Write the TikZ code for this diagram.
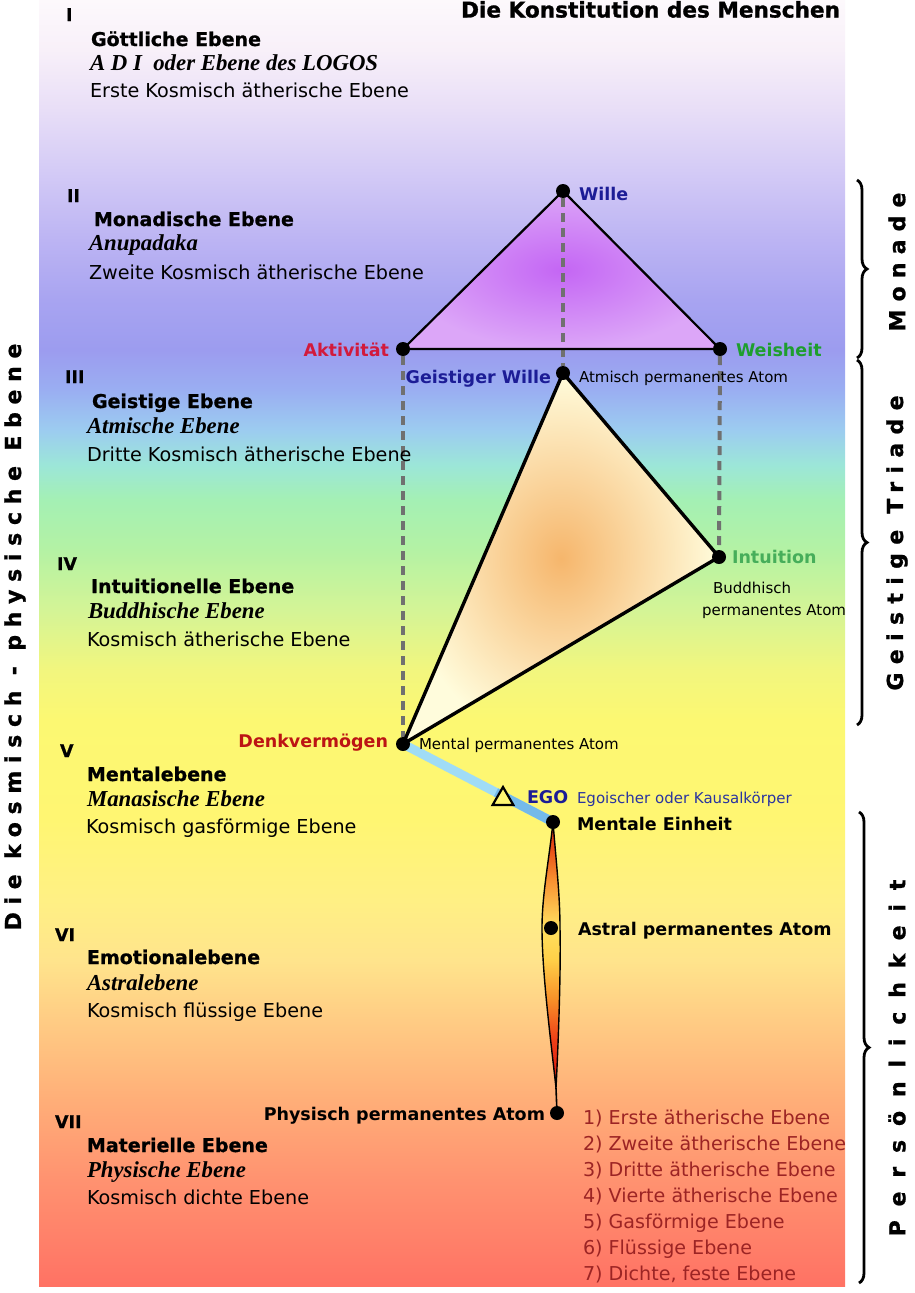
\documentclass[tikz,border=0pt]{standalone}
\usepackage{fontspec}
\setmainfont{DejaVu Sans}
\newfontfamily\serifbi{Liberation Serif}
\usetikzlibrary{decorations.pathreplacing,shapes.geometric,calc}

\definecolor{bgA}{HTML}{FDF9FC}
\definecolor{bgB}{HTML}{F8F0F9}
\definecolor{bgC}{HTML}{E8DEF7}
\definecolor{bgD}{HTML}{D4CBF6}
\definecolor{bgE}{HTML}{BCB4F3}
\definecolor{bgF}{HTML}{A8A4F1}
\definecolor{bgG}{HTML}{9C9CEF}
\definecolor{bgH}{HTML}{9AAEF2}
\definecolor{bgI}{HTML}{9CCCF0}
\definecolor{bgJ}{HTML}{9CE6D8}
\definecolor{bgK}{HTML}{A4F0B4}
\definecolor{bgL}{HTML}{B4F2A4}
\definecolor{bgM}{HTML}{D4F496}
\definecolor{bgN}{HTML}{F2F67E}
\definecolor{bgO}{HTML}{FCF872}
\definecolor{bgP}{HTML}{FFF672}
\definecolor{bgQ}{HTML}{FFF084}
\definecolor{bgR}{HTML}{FFE48C}
\definecolor{bgS}{HTML}{FFCC84}
\definecolor{bgT}{HTML}{FFAE78}
\definecolor{bgU}{HTML}{FF9270}
\definecolor{bgV}{HTML}{FF7264}

\definecolor{spA}{HTML}{D83010}
\definecolor{spB}{HTML}{E85018}
\definecolor{spC}{HTML}{F89030}
\definecolor{spD}{HTML}{FFE060}
\definecolor{spE}{HTML}{FFD048}
\definecolor{spF}{HTML}{F89028}
\definecolor{spG}{HTML}{EE4018}
\definecolor{spH}{HTML}{E02010}
\definecolor{spI}{HTML}{801010}

\definecolor{purpleIn}{HTML}{C466F4}
\definecolor{purpleOut}{HTML}{DCA6F8}
\definecolor{orIn}{HTML}{F6B66C}
\definecolor{orOut}{HTML}{FFFCDC}
\definecolor{willeblue}{HTML}{1C1C96}
\definecolor{aktred}{HTML}{D21A3C}
\definecolor{weisgreen}{HTML}{1E9E2E}
\definecolor{intgreen}{HTML}{46AE5A}
\definecolor{denkred}{HTML}{BC1414}
\definecolor{egotxt}{HTML}{2A34A0}
\definecolor{listred}{HTML}{9C2424}
\definecolor{dashgray}{HTML}{707070}
\definecolor{egoA}{HTML}{A0DCF6}
\definecolor{egoB}{HTML}{74BAEA}

\pgfdeclareverticalshading{bgshade}{100bp}{color(0bp)=(bgV); color(25bp)=(bgV); color(29.12bp)=(bgU); color(32.23bp)=(bgT); color(35.34bp)=(bgS); color(37.68bp)=(bgR); color(40.01bp)=(bgQ); color(43.12bp)=(bgP); color(47.01bp)=(bgO); color(48.95bp)=(bgN); color(51.28bp)=(bgM); color(53.62bp)=(bgL); color(55.56bp)=(bgK); color(56.92bp)=(bgJ); color(58.28bp)=(bgI); color(59.84bp)=(bgH); color(61.39bp)=(bgG); color(63.34bp)=(bgF); color(65.67bp)=(bgE); color(68.39bp)=(bgD); color(70.72bp)=(bgC); color(73.06bp)=(bgB); color(75bp)=(bgA); color(100bp)=(bgA)}

\pgfdeclareverticalshading{spshade}{100bp}{color(0bp)=(spI); color(25bp)=(spI); color(28.4bp)=(spH); color(34.1bp)=(spG); color(41.6bp)=(spF); color(49.2bp)=(spE); color(55.2bp)=(spD); color(64.2bp)=(spC); color(69.9bp)=(spB); color(75bp)=(spA); color(100bp)=(spA)}

\pgfdeclarelayer{bgl}
\pgfdeclarelayer{midl}
\pgfsetlayers{bgl,midl,main}

\begin{document}
\begin{tikzpicture}[x=1pt,y=-1pt,
  every node/.style={inner sep=0pt, outer sep=0pt},
  num/.style={anchor=base west, font=\bfseries\fontsize{17.5}{20}\selectfont\addfontfeatures{FakeBold=0.8}},
  head/.style={anchor=base west, font=\bfseries\fontsize{19}{22}\selectfont\addfontfeatures{FakeBold=0.8}},
  ital/.style={anchor=base west, font=\serifbi\bfseries\itshape\fontsize{22.8}{26}\selectfont},
  body/.style={anchor=base west, font=\fontsize{19.2}{23}\selectfont},
  lbl/.style={font=\bfseries\fontsize{17.5}{20}\selectfont},
  small/.style={font=\fontsize{15}{18}\selectfont},
  listitem/.style={anchor=base west, text=listred, font=\fontsize{19.1}{22}\selectfont},
  dot/.style={circle, fill=black, minimum size=14pt},
  edgeline/.style={draw=black, line width=2.4pt, line join=round},
  dashline/.style={draw=dashgray, line width=4pt, dash pattern=on 9pt off 6pt},
  bracestyle/.style={decorate, decoration={brace, amplitude=10pt}, line width=2.8pt},
  vlabel/.style={rotate=90}
]
\useasboundingbox (0,0) rectangle (914,1293);

\begin{pgfonlayer}{bgl}
\fill[white] (0,0) rectangle (914,1293);
\shade[shading=bgshade] (39,0) rectangle (845,1286);
\end{pgfonlayer}

% ---------- points ----------
\node[dot] (wille) at (563,191) {};
\node[dot] (akt) at (403,349) {};
\node[dot] (weis) at (720,349) {};
\node[dot] (gw) at (563,373) {};
\node[dot] (intu) at (719,557) {};
\node[dot] (denk) at (403,744) {};
\node[dot] (me) at (553,822) {};
\node[dot] (ast) at (551,928) {};
\node[dot] (phys) at (557,1113) {};
\coordinate (astL) at (542,928);
\coordinate (astR) at (560,928);
\coordinate (spb) at (556,1088);

\begin{pgfonlayer}{midl}
% purple triangle (Monade)
\shade[inner color=purpleIn, outer color=purpleOut] (wille.center) -- (akt.center) -- (weis.center) -- cycle;
% yellow triangle (Geistige Triade)
\shade[inner color=orIn, outer color=orOut] (gw.center) -- (intu.center) -- (denk.center) -- cycle;
% dashed verticals
\draw[dashline] (wille) -- (gw);
\draw[dashline] (akt) -- (denk);
\draw[dashline] (weis) -- (intu);
% edges
\draw[edgeline, line width=2.2pt] (wille.center) -- (akt.center) -- (weis.center) -- cycle;
\draw[edgeline, line width=3.4pt] (gw.center) -- (intu.center) -- (denk.center) -- cycle;
% ego line
\draw[line width=9pt, draw=egoA] (denk.center) -- (me.center);
\draw[line width=9pt, draw=egoB] ($(denk.center)!0.62!(me.center)$) -- (me.center);
% spindle
\shade[shading=spshade] (me.center) .. controls (549,860) and (542,895) .. (astL) .. controls (542,975) and (552,1050) .. (spb) .. controls (558,1050) and (561,975) .. (astR) .. controls (560,895) and (556,860) .. (me.center) -- cycle;
\draw[line width=1.4pt] (me.center) .. controls (549,860) and (542,895) .. (astL) .. controls (542,975) and (552,1050) .. (spb) .. controls (558,1050) and (561,975) .. (astR) .. controls (560,895) and (556,860) .. (me.center) -- cycle;
\draw[line width=1.6pt] (spb) -- (phys);
\end{pgfonlayer}

\node[regular polygon, regular polygon sides=3, draw=black, line width=2.2pt, fill=bgP, minimum size=24pt] (ego) at (503,799) {};

% ---------- title ----------
\node[anchor=base east, font=\bfseries\fontsize{21.6}{24}\selectfont\addfontfeatures{FakeBold=1.2}] (title) at (840,17.5) {Die Konstitution des Menschen};

% ---------- left column ----------
\node[num] (nI) at (66,21) {I};
\node[head] (hI) at (91,46) {Göttliche Ebene};
\node[ital] (iI) at (90,70) {A D I\ \ oder Ebene des LOGOS};
\node[body] (bI) at (90,97) {Erste Kosmisch ätherische Ebene};

\node[num] (nII) at (67,202) {II};
\node[head] (hII) at (94,226) {Monadische Ebene};
\node[ital] (iII) at (89,250) {Anupadaka};
\node[body] (bII) at (89,279) {Zweite Kosmisch ätherische Ebene};

\node[num] (nIII) at (65,383) {III};
\node[head] (hIII) at (92,408) {Geistige Ebene};
\node[ital] (iIII) at (87,433) {Atmische Ebene};
\node[body] (bIII) at (87,461) {Dritte Kosmisch ätherische Ebene};

\node[num] (nIV) at (57,570) {IV};
\node[head] (hIV) at (91,593) {Intuitionelle Ebene};
\node[ital] (iIV) at (88,618) {Buddhische Ebene};
\node[body] (bIV) at (87,646) {Kosmisch ätherische Ebene};

\node[num] (nV) at (60,757) {V};
\node[head] (hV) at (87,781) {Mentalebene};
\node[ital] (iV) at (87,806) {Manasische Ebene};
\node[body] (bV) at (86,833) {Kosmisch gasförmige Ebene};

\node[num] (nVI) at (55,941) {VI};
\node[head] (hVI) at (87,964) {Emotionalebene};
\node[ital] (iVI) at (87,990) {Astralebene};
\node[body] (bVI) at (87,1017) {Kosmisch flüssige Ebene};

\node[num] (nVII) at (55,1128) {VII};
\node[head] (hVII) at (87,1152) {Materielle Ebene};
\node[ital] (iVII) at (87,1177) {Physische Ebene};
\node[body] (bVII) at (87,1204) {Kosmisch dichte Ebene};

% ---------- point labels ----------
\node[lbl, anchor=base west, text=willeblue] (lwille) at (579,200) {Wille};
\node[lbl, anchor=base east, text=aktred] (lakt) at (389,356) {Aktivität};
\node[lbl, anchor=base west, text=weisgreen] (lweis) at (736,356) {Weisheit};
\node[lbl, anchor=base east, text=willeblue] (lgw) at (551,383) {Geistiger Wille};
\node[small, anchor=base west] (latm) at (579,382) {Atmisch permanentes Atom};
\node[lbl, anchor=base west, text=intgreen] (lint) at (732,563) {Intuition};
\node[small, anchor=base west] (lbud1) at (713,593) {Buddhisch};
\node[small, anchor=base west] (lbud2) at (702,615) {permanentes Atom};
\node[lbl, anchor=base east, text=denkred] (ldenk) at (388,747) {Denkvermögen};
\node[small, anchor=base west] (lment) at (419,749) {Mental permanentes Atom};
\node[lbl, anchor=base west, text=willeblue] (lego) at (527,803) {EGO};
\node[small, anchor=base west, text=egotxt] (lkaus) at (577,803) {Egoischer oder Kausalkörper};
\node[lbl, anchor=base west] (lme) at (577,830) {Mentale Einheit};
\node[lbl, anchor=base west] (last) at (578,935) {Astral permanentes Atom};
\node[lbl, anchor=base east] (lphys) at (545,1120) {Physisch permanentes Atom};

\node[listitem] (li1) at (583,1124) {1) Erste ätherische Ebene};
\node[listitem] (li2) at (583,1150) {2) Zweite ätherische Ebene};
\node[listitem] (li3) at (583,1176) {3) Dritte ätherische Ebene};
\node[listitem] (li4) at (583,1202) {4) Vierte ätherische Ebene};
\node[listitem] (li5) at (583,1228) {5) Gasförmige Ebene};
\node[listitem] (li6) at (583,1254) {6) Flüssige Ebene};
\node[listitem] (li7) at (583,1280) {7) Dichte, feste Ebene};

% ---------- braces ----------
\coordinate (bmT) at (857,180);
\coordinate (bmB) at (857,358);
\coordinate (btT) at (857,360);
\coordinate (btB) at (857,725);
\coordinate (bpT) at (859,812);
\coordinate (bpB) at (859,1283);
\draw[bracestyle] (bmT) -- (bmB);
\draw[bracestyle] (btT) -- (btB);
\draw[bracestyle] (bpT) -- (bpB);

% ---------- vertical labels ----------
\node[vlabel, font={\bfseries\fontsize{22}{24}\selectfont\addfontfeatures{LetterSpace=37,FakeBold=1}}] (vmon) at (897,262) {Monade};
\node[vlabel, font={\bfseries\fontsize{22}{24}\selectfont\addfontfeatures{LetterSpace=38,FakeBold=1}}] (vtri) at (897,543) {Geistige Triade};
\node[vlabel, font={\bfseries\fontsize{22}{24}\selectfont\addfontfeatures{LetterSpace=63,FakeBold=1}}] (vper) at (897,1058) {Persönlichkeit};
\node[vlabel, font={\bfseries\fontsize{22}{24}\selectfont\addfontfeatures{LetterSpace=35,FakeBold=1}}] (vleft) at (15,637) {Die kosmisch - physische Ebene};
\end{tikzpicture}
\end{document}
